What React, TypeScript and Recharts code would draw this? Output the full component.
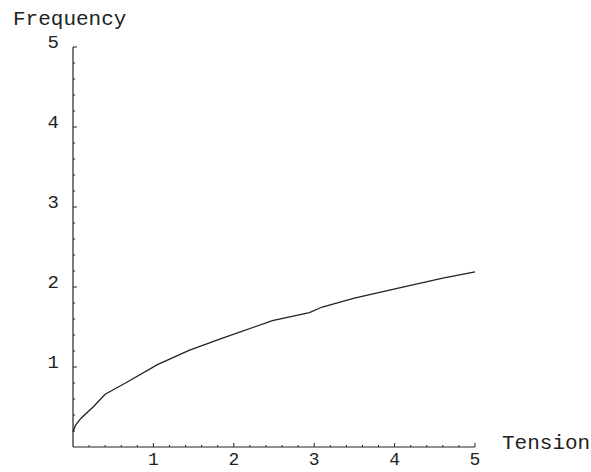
import { Line, LineChart, XAxis, YAxis } from "recharts";

const tension = [0, 0.03, 0.1, 0.25, 0.4, 0.67, 1.05, 1.45, 1.86, 2.48, 2.94, 3.1, 3.5, 4.06, 4.6, 5.0];
const frequency = [0.19, 0.27, 0.36, 0.5, 0.66, 0.81, 1.03, 1.21, 1.36, 1.58, 1.68, 1.75, 1.86, 1.99, 2.11, 2.19];

const majorTicks = [1, 2, 3, 4, 5];
const minorTicks = [
  0.2, 0.4, 0.6, 0.8, 1.2, 1.4, 1.6, 1.8, 2.2, 2.4, 2.6, 2.8, 3.2, 3.4, 3.6, 3.8, 4.2, 4.4, 4.6, 4.8,
];
const allTicks = [...minorTicks, ...majorTicks].sort((a, b) => a - b);

const data = tension.map((t, i) => ({ t, f: frequency[i] }));

const FONT = "'Liberation Mono', 'DejaVu Sans Mono', monospace";
const INK = "#222";

function XTick({ x, y, payload }: any) {
  const v = payload.value;
  const major = majorTicks.includes(v);
  return (
    <g>
      <line x1={x} y1={y} x2={x} y2={y - (major ? 4 : 2)} stroke={INK} strokeWidth={1} />
      {major && (
        <text x={x} y={y + 18} textAnchor="middle" fontSize={18} fontFamily={FONT} fill={INK}>
          {v}
        </text>
      )}
    </g>
  );
}

function YTick({ x, y, payload }: any) {
  const v = payload.value;
  const major = majorTicks.includes(v);
  return (
    <g>
      <line x1={x} y1={y} x2={x + (major ? 4 : 2)} y2={y} stroke={INK} strokeWidth={1} />
      {major && (
        <text x={x - 14} y={y + 1} textAnchor="end" fontSize={19} fontFamily={FONT} fill={INK}>
          {v}
        </text>
      )}
    </g>
  );
}

export default function App() {
  return (
    <div style={{ position: "absolute", left: 0, top: 0, width: 591, height: 472, background: "#fff" }}>
      <LineChart width={591} height={472} data={data} margin={{ top: 47, right: 116, bottom: 0, left: 13 }}>
        <XAxis
          dataKey="t"
          type="number"
          domain={[0, 5]}
          ticks={allTicks}
          interval={0}
          tickSize={0}
          tickMargin={0}
          height={25}
          tick={<XTick />}
          axisLine={{ stroke: INK, strokeWidth: 1 }}
          label={{
            content: ({ viewBox }: any) => (
              <text
                x={viewBox.x + viewBox.width + 27}
                y={viewBox.y + 2}
                fontSize={21}
                fontFamily={FONT}
                fill={INK}
              >
                Tension
              </text>
            ),
          }}
        />
        <YAxis
          type="number"
          domain={[0, 5]}
          ticks={allTicks}
          interval={0}
          tickSize={0}
          tickMargin={0}
          width={60}
          tick={<YTick />}
          axisLine={{ stroke: INK, strokeWidth: 1.2 }}
          label={{
            content: ({ viewBox }: any) => (
              <text x={viewBox.x} y={viewBox.y - 22} fontSize={21} fontFamily={FONT} fill={INK}>
                Frequency
              </text>
            ),
          }}
        />
        <Line
          dataKey="f"
          type="linear"
          stroke={INK}
          strokeWidth={1.3}
          dot={false}
          isAnimationActive={false}
        />
      </LineChart>
    </div>
  );
}
